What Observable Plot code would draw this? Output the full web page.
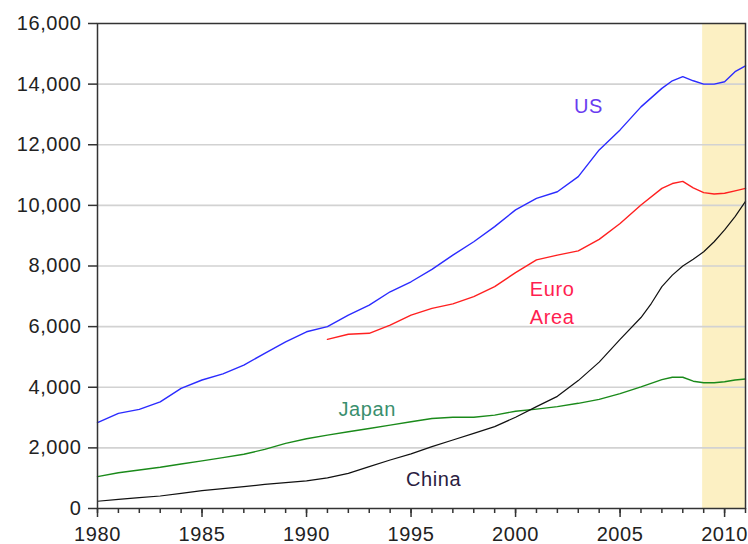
<!DOCTYPE html>
<html>
<head>
<meta charset="utf-8">
<script src="https://cdn.jsdelivr.net/npm/d3@7"></script>
<script src="https://cdn.jsdelivr.net/npm/@observablehq/plot@0.6"></script>
<style>
  html, body { margin: 0; padding: 0; background: #fff; }
  svg text { letter-spacing: 0.6px; }
</style>
</head>
<body>
<div id="chart"></div>
<script>
// GDP (billions, PPP-ish)
const usYears = [1980,1981,1982,1983,1984,1985,1986,1987,1988,1989,1990,1991,1992,1993,1994,1995,1996,1997,1998,1999,2000,2001,2002,2003,2004,2005,2006,2007,2007.5,2008,2008.5,2009,2009.5,2010,2010.5,2011];
const usValues = [2830,3140,3270,3520,3965,4240,4440,4730,5120,5500,5830,6000,6380,6710,7150,7480,7890,8360,8800,9300,9850,10230,10450,10950,11830,12490,13250,13860,14110,14245,14110,14000,14000,14080,14410,14600];

const euroYears = [1991,1992,1993,1994,1995,1996,1997,1998,1999,2000,2001,2002,2003,2004,2005,2006,2007,2007.5,2008,2008.5,2009,2009.5,2010,2010.5,2011];
const euroValues = [5580,5750,5780,6050,6380,6600,6750,6990,7320,7780,8200,8360,8500,8880,9400,10010,10560,10720,10790,10580,10420,10375,10400,10480,10560];

const japanYears = [1980,1981,1982,1983,1984,1985,1986,1987,1988,1989,1990,1991,1992,1993,1994,1995,1996,1997,1998,1999,2000,2001,2002,2003,2004,2005,2006,2007,2007.5,2008,2008.5,2009,2009.5,2010,2010.5,2011];
const japanValues = [1050,1180,1270,1360,1470,1570,1680,1790,1950,2150,2300,2420,2530,2640,2750,2860,2970,3010,3010,3080,3210,3280,3360,3470,3600,3790,4010,4250,4330,4330,4200,4150,4150,4180,4240,4270];

const chinaYears = [1980,1981,1982,1983,1984,1985,1986,1987,1988,1989,1990,1991,1992,1993,1994,1995,1996,1997,1998,1999,2000,2001,2002,2003,2004,2005,2006,2006.5,2007,2007.5,2008,2008.5,2009,2009.5,2010,2010.5,2011];
const chinaValues = [240,300,357,412,500,587,653,720,797,852,910,1010,1160,1380,1600,1800,2040,2260,2480,2700,3010,3360,3700,4220,4830,5580,6300,6770,7320,7700,8000,8220,8470,8800,9190,9630,10130];

const recession = [{start: 2008.95, end: 2011}];
const yTicks = [0,2000,4000,6000,8000,10000,12000,14000,16000];
const xMajorTicks = [1980,1985,1990,1995,2000,2005,2010];
const xMinorTicks = d3.range(1980, 2012);

const labels = [
  {name: "US", year: 2003.49, value: 13344, color: "#6a3cf0"},
  {name: "Euro\nArea", year: 2001.75, value: 6845, color: "#ff1e50"},
  {name: "Japan", year: 1992.9, value: 3349, color: "#3a8f6e"},
  {name: "China", year: 1996.08, value: 1056, color: "#2a2040"}
];

const toRows = (years, values) => years.map((y, i) => ({year: y, value: values[i]}));
const us = toRows(usYears, usValues);
const euro = toRows(euroYears, euroValues);
const japan = toRows(japanYears, japanValues);
const china = toRows(chinaYears, chinaValues);

const chart = Plot.plot({
  width: 748,
  height: 544,
  marginLeft: 97,
  marginRight: 3,
  marginTop: 23,
  marginBottom: 36,
  style: {fontFamily: "'Liberation Sans', Arial, sans-serif", fontSize: "20px", color: "#222", background: "#fff"},
  x: {domain: [1980, 2011]},
  y: {domain: [0, 16000]},
  marks: [
    Plot.rect(recession, {x1: "start", x2: "end", fill: "#fcf0c3"}),
    Plot.ruleY(yTicks.filter(d => d > 0 && d < 16000), {stroke: "#d2d2d2", strokeWidth: 1.6}),
    Plot.axisY({ticks: yTicks, tickSize: 9, tickPadding: 7, tickFormat: d3.format(","), stroke: "#333", strokeWidth: 1.5, fontSize: 20, label: null}),
    Plot.axisX({ticks: xMinorTicks, tickSize: 5, tickFormat: () => "", stroke: "#333", strokeWidth: 1.5, label: null}),
    Plot.axisX({ticks: xMajorTicks, tickSize: 9, tickPadding: 9, tickFormat: d => String(d), stroke: "#333", strokeWidth: 1.5, fontSize: 20, label: null}),
    Plot.line(us, {x: "year", y: "value", stroke: "#2b2bff", strokeWidth: 1.4}),
    Plot.line(euro, {x: "year", y: "value", stroke: "#ff2020", strokeWidth: 1.4}),
    Plot.line(japan, {x: "year", y: "value", stroke: "#1a8a1a", strokeWidth: 1.4}),
    Plot.line(china, {x: "year", y: "value", stroke: "#111", strokeWidth: 1.2}),
    ...labels.map(l => Plot.text([l], {x: "year", y: "value", text: "name", fill: l.color, fontSize: 20, lineHeight: 1.42})),
    Plot.frame({stroke: "#333", strokeWidth: 1.5})
  ]
});
document.getElementById("chart").appendChild(chart);
</script>
</body>
</html>
